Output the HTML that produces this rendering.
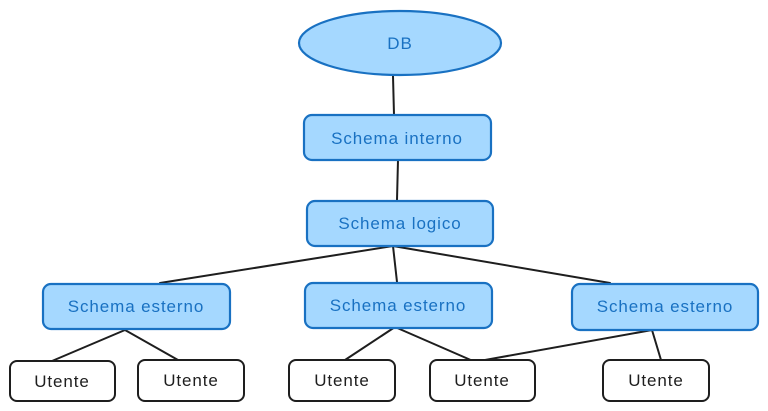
<!DOCTYPE html>
<html><head><meta charset="utf-8"><style>
html,body{margin:0;padding:0;background:#fff;width:768px;height:411px;overflow:hidden}
</style></head><body>
<svg width="768" height="411" xmlns="http://www.w3.org/2000/svg" font-family="Liberation Sans, sans-serif" font-size="17" letter-spacing="0.9">
<g stroke="#1e1e1e" stroke-width="2" fill="none" stroke-linecap="round">
<line x1="393" y1="76" x2="394" y2="115"/>
<line x1="398" y1="160" x2="397" y2="200"/>
<line x1="393" y1="246" x2="160" y2="283"/>
<line x1="393" y1="246" x2="397" y2="282"/>
<line x1="393" y1="246" x2="610" y2="283"/>
<line x1="125" y1="330" x2="52" y2="361"/>
<line x1="125" y1="330" x2="178" y2="360"/>
<line x1="395" y1="327" x2="345" y2="360"/>
<line x1="395" y1="327" x2="473" y2="361"/>
<line x1="652" y1="330" x2="485" y2="360"/>
<line x1="652" y1="330" x2="661" y2="360"/>
</g>
<g fill="#a5d8ff" stroke="#1971c2" stroke-width="2.2">
<ellipse cx="400" cy="43" rx="101" ry="32"/>
<rect x="304" y="115" width="187" height="45" rx="8"/>
<rect x="307" y="201" width="186" height="45" rx="8"/>
<rect x="43" y="284" width="187" height="45" rx="8"/>
<rect x="305" y="283" width="187" height="45" rx="8"/>
<rect x="572" y="284" width="186" height="46" rx="8"/>
</g>
<g fill="#fff" stroke="#1e1e1e" stroke-width="2">
<rect x="10" y="361" width="105" height="40" rx="7"/>
<rect x="138" y="360" width="106" height="41" rx="7"/>
<rect x="289" y="360" width="106" height="41" rx="7"/>
<rect x="430" y="360" width="105" height="41" rx="7"/>
<rect x="603" y="360" width="106" height="41" rx="7"/>
</g>
<g fill="#1971c2" text-anchor="middle">
<text x="400" y="49">DB</text>
<text x="397" y="144">Schema interno</text>
<text x="400" y="229">Schema logico</text>
<text x="136" y="312">Schema esterno</text>
<text x="398" y="311">Schema esterno</text>
<text x="665" y="312">Schema esterno</text>
</g>
<g fill="#1e1e1e" text-anchor="middle">
<text x="62" y="387">Utente</text>
<text x="191" y="386">Utente</text>
<text x="342" y="386">Utente</text>
<text x="482" y="386">Utente</text>
<text x="656" y="386">Utente</text>
</g>
</svg>
</body></html>
